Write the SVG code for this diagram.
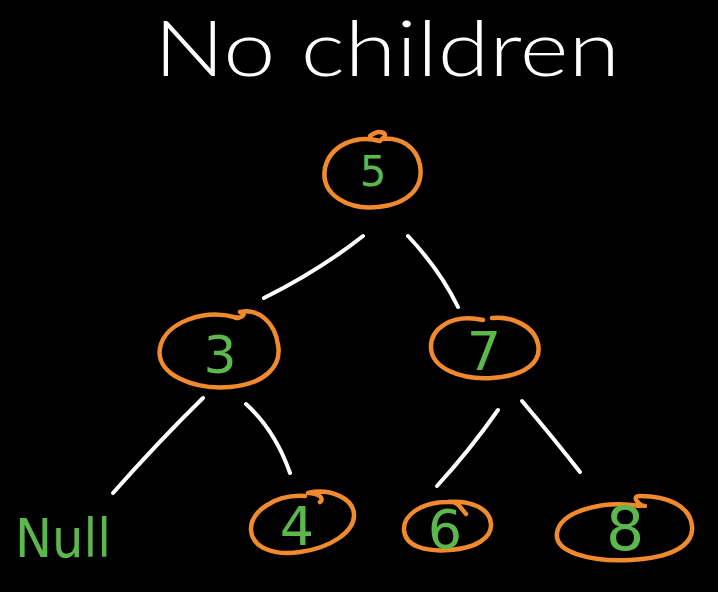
<svg xmlns="http://www.w3.org/2000/svg" width="718" height="592" viewBox="0 0 718 592">
<style>
.ring{fill:none;stroke:#f08a2c;stroke-width:4.5;stroke-linecap:round;stroke-linejoin:round}
.num{fill:#5cb84c;font-family:"DejaVu Sans","Liberation Sans",sans-serif;text-anchor:middle}
.edge{fill:none;stroke:#ffffff;stroke-width:4;stroke-linecap:round}
.title{fill:#ffffff;font-family:"Lato","Open Sans","Liberation Sans",sans-serif;font-weight:300}
</style>
<rect width="718" height="592" fill="#000000"/>
<text class="title" x="154" y="76" font-size="76" textLength="466" lengthAdjust="spacingAndGlyphs">No children</text>
<g id="connectors">
<path class="edge" d="M363,236 Q320,270 264,298"/>
<path class="edge" d="M408,236 Q440,270 458,307"/>
<path class="edge" d="M203,398 Q160,440 113,493"/>
<path class="edge" d="M246,404 Q275,430 290,473"/>
<path class="edge" d="M498,410 Q470,450 437,486"/>
<path class="edge" d="M522,401 Q555,440 580,472"/>
</g>
<g id="node5">
<path class="ring" d="M380,141 C355,134 330,146 325,168 C320,196 350,210 378,207 C408,204 424,188 420,165 C416,146 400,137 382,139 C390,134 380,128 370,136"/>
<text class="num" x="373" y="186" font-size="42">5</text>
</g>
<g id="node3">
<path class="ring" d="M238,318 C205,308 165,322 160,348 C155,375 195,390 230,387 C265,384 282,366 278,345 C275,322 258,308 240,312 C248,312 242,318 236,318"/>
<text class="num" x="220" y="373" font-size="52">3</text>
</g>
<g id="node7">
<path class="ring" d="M483,320 C450,313 430,330 431,348 C432,368 460,380 492,378 C525,376 542,362 538,344 C534,325 510,316 492,318"/>
<text class="num" x="484" y="370" font-size="54">7</text>
</g>
<g id="node4">
<path class="ring" d="M305,496 C275,494 250,512 251,530 C252,548 275,556 300,552 C330,548 355,532 354,514 C353,498 330,488 308,493 C318,493 325,498 320,502"/>
<text class="num" x="297" y="545" font-size="54">4</text>
</g>
<g id="node6">
<path class="ring" d="M448,502 C420,502 403,516 404,530 C405,546 425,552 450,550 C476,548 492,538 491,524 C490,508 470,500 448,502 C458,500 462,510 466,514"/>
<text class="num" x="445" y="548" font-size="54">6</text>
</g>
<g id="node8">
<path class="ring" d="M640,506 C600,500 560,512 557,533 C554,552 590,562 630,560 C670,558 694,546 692,526 C690,506 668,496 640,496 C630,496 640,506 645,506"/>
<text class="num" x="625" y="550" font-size="60">8</text>
</g>
<text class="num" x="15" y="557" font-size="54" style="text-anchor:start" textLength="96" lengthAdjust="spacingAndGlyphs">Null</text>
</svg>
